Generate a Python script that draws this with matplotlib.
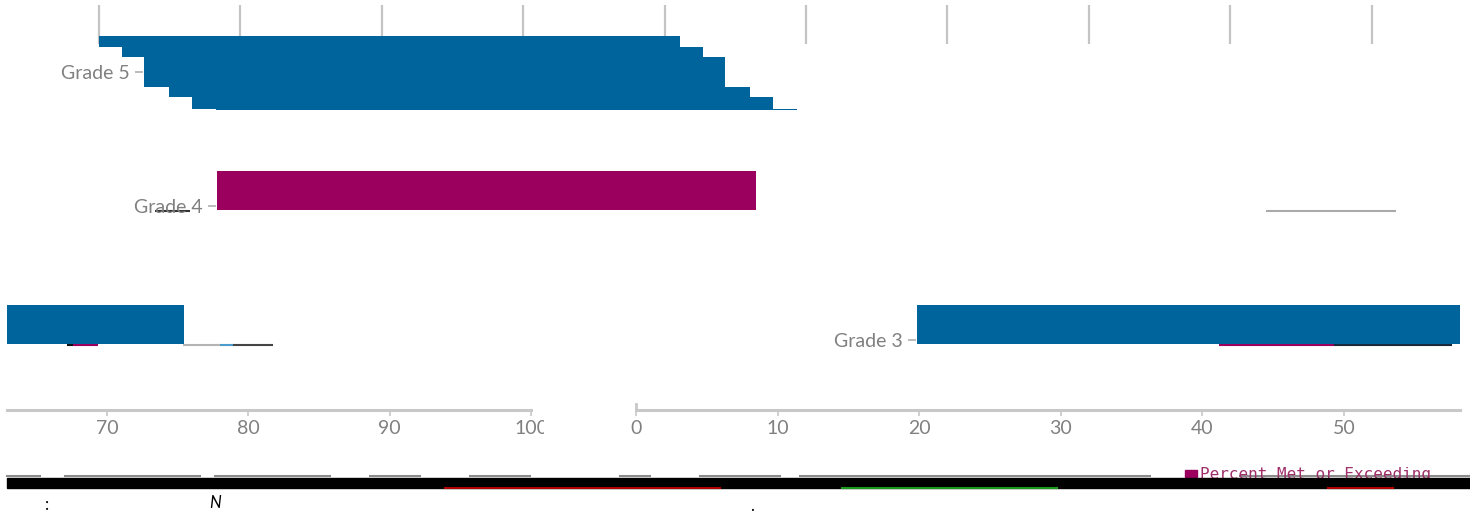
import matplotlib
matplotlib.use('Agg')
import matplotlib.pyplot as plt
from matplotlib.patches import Rectangle
from matplotlib.lines import Line2D
from matplotlib.transforms import Bbox
from matplotlib import transforms

plt.rcParams['font.family'] = ['Lato', 'DejaVu Sans']

# percent met or exceeding, by grade
grades = ['Grade 5', 'Grade 4', 'Grade 3']
pct_met = [41.1, 38.1, 55.6]
bar_left = [3.2, 8.35, 19.85]
bar_colors = ['#00649c', '#9b005f', '#00649c']

# the grade 5 bar is torn into strips, each pushed a bit to the right
g5_strip_edges = [-0.27, -0.19, -0.11, 0.11, 0.19, 0.275, 0.285]
g5_strip_left = [0, 1.6, 3.2, 4.95, 6.6, 8.25]

top_ticks = list(range(0, 100, 10))
left_ticks = [70, 80, 90, 100]
right_ticks = [0, 10, 20, 30, 40, 50]

W, H = 1470, 517
GRAY = '#808080'
LINE = '#c8c8c8'


def box(x0, y0, x1, y1):
    return [x0 / W, 1 - y1 / H, (x1 - x0) / W, (y1 - y0) / H]


def fx(px):
    return px / W


def fy(py):
    return 1 - py / H


def grade_label(ax, x, y, text):
    off = transforms.offset_copy(ax.transData, fig=fig, x=-14, y=-7, units='dots')
    ax.text(x, y, text, transform=off, ha='right', va='baseline',
            fontsize=14, color=GRAY, zorder=4)
    dash = transforms.offset_copy(ax.transData, fig=fig, x=-5, y=0, units='dots')
    ax.plot([x], [y], marker='_', ms=6, mew=1.2, color='#b0b0b0',
            transform=dash, clip_on=False)


def bottom_axis(ax, ticks):
    for s in ['top', 'left', 'right']:
        ax.spines[s].set_visible(False)
    ax.spines['bottom'].set_color(LINE)
    ax.spines['bottom'].set_linewidth(2.2)
    ax.set_xticks(ticks)
    ax.set_yticks([])
    ax.tick_params(axis='x', length=4, width=1.2, color=LINE,
                   labelcolor=GRAY, labelsize=14, pad=3)


fig = plt.figure(figsize=(W / 100, H / 100), dpi=100)

# top part: grade 5 and grade 4
ax_top = fig.add_axes(box(0, 5, 1470, 245))
ax_top.set_xlim(-7.0, 96.96)
ax_top.set_ylim(1.291, -0.5)
for s in ax_top.spines.values():
    s.set_visible(False)
ax_top.xaxis.set_ticks_position('top')
ax_top.set_xticks(top_ticks)
ax_top.set_yticks([])
ax_top.tick_params(axis='x', direction='in', length=28, width=1.6,
                   color='#c4c4c4', labeltop=False, labelbottom=False)

for i in range(len(g5_strip_left)):
    ax_top.barh(g5_strip_edges[i], pct_met[0], left=g5_strip_left[i],
                height=g5_strip_edges[i + 1] - g5_strip_edges[i],
                align='edge', color=bar_colors[0], lw=0, zorder=3)
grade_label(ax_top, bar_left[0], 0, grades[0])

ax_top.barh(1.03, pct_met[1], left=bar_left[1], height=-0.29, align='edge',
            color=bar_colors[1], lw=0, zorder=3)
grade_label(ax_top, bar_left[1], 1, grades[1])
ax_top.hlines(1.04, 3.96, 6.44, color='#333333', lw=1.5)
ax_top.hlines(1.04, 82.5, 91.7, color='#aaaaaa', lw=1.5)

# lower part: grade 3, the axis wrapped into two pieces
ax_bl = fig.add_axes(box(7, 245, 531, 410))
ax_bl.set_xlim(62.92, 100)
ax_bl.set_ylim(2.522, 1.291)
bottom_axis(ax_bl, left_ticks)
# the "100" is cut off at the tear
cut = ax_bl.get_xticklabels()[-1]
cut.set_clip_on(True)
cut.set_clip_box(Bbox.from_extents(0, 0, 544, H))

ax_br = fig.add_axes(box(636, 245, 1460, 410))
ax_br.set_xlim(0, 58.19)
ax_br.set_ylim(2.522, 1.291)
bottom_axis(ax_br, right_ticks)
ax_br.spines['left'].set_visible(True)
ax_br.spines['left'].set_color(LINE)
ax_br.spines['left'].set_linewidth(2)
ax_br.spines['left'].set_bounds(2.48, 2.522)

for ax in [ax_bl, ax_br]:
    ax.barh(2.03, pct_met[2], left=bar_left[2], height=-0.29, align='edge',
            color=bar_colors[2], lw=0, zorder=3)
grade_label(ax_br, bar_left[2], 2, grades[2])

ax_bl.hlines(2.035, 75.38, 78.0, color='#b4b4b4', lw=1.5)
ax_bl.hlines(2.035, 78.0, 78.9, color='#4a9ccc', lw=1.5)
ax_bl.hlines(2.035, 78.9, 81.75, color='#444444', lw=1.5)
ax_bl.hlines(2.04, 67.17, 67.59, color='#111111', lw=1.5)
ax_bl.hlines(2.04, 67.59, 69.36, color='#9b005f', lw=1.5)
ax_br.hlines(2.037, 41.17, 49.29, color='#9b005f', lw=1.5)
ax_br.hlines(2.037, 49.29, 57.63, color='#1a2a3a', lw=1.5)

# torn strip at the bottom, with the legend half hidden under it
for a, b in [(7, 40), (65, 200), (215, 330), (370, 420), (470, 530),
             (620, 650), (700, 780), (800, 1150), (1240, 1470)]:
    fig.add_artist(Line2D([fx(a), fx(b)], [fy(476), fy(476)], color='#8c8c8c',
                          lw=1.5, transform=fig.transFigure, zorder=4))

fig.add_artist(Rectangle((fx(1185), fy(477)), fx(1197) - fx(1185), 7 / H,
                         transform=fig.transFigure, color='#9b005f', zorder=4))
fig.text(fx(1200), fy(467.5), 'Percent Met or Exceeding', va='top', ha='left',
         family='DejaVu Sans Mono', fontsize=11.5, color='#a0306a', zorder=4)

fig.add_artist(Rectangle((fx(7), fy(488)), fx(1470) - fx(7), 10 / H,
                         transform=fig.transFigure, color='black', zorder=6))
for a, b, c in [(445, 720, '#b00000'), (842, 1057, '#1a9a1a'), (1328, 1393, '#b00000')]:
    fig.add_artist(Line2D([fx(a), fx(b)], [fy(488), fy(488)], color=c,
                          lw=1.5, transform=fig.transFigure, zorder=7))

fig.text(fx(47), fy(505), ':', ha='center', va='center', fontsize=12, color='black')
fig.text(fx(215), fy(503), 'N', ha='center', va='center', fontsize=12,
         style='italic', color='black')
fig.text(fx(752), fy(506), '.', ha='center', va='center', fontsize=12, color='black')

fig.savefig('out.png', dpi=100)
